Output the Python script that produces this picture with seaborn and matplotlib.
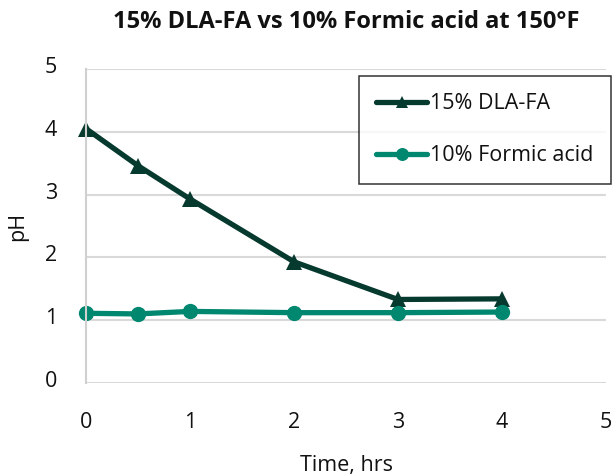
import matplotlib
matplotlib.use("Agg")
import matplotlib.pyplot as plt
import matplotlib.transforms as mtransforms
import seaborn as sns
import pandas as pd

time_dla = [0, 0.5, 1, 2, 3, 4]
ph_dla = [4.05, 3.46, 2.93, 1.93, 1.33, 1.34]
time_formic = [0, 0.5, 1, 2, 3, 4]
ph_formic = [1.11, 1.10, 1.14, 1.12, 1.12, 1.13]
series_names = ["15% DLA-FA", "10% Formic acid"]
colors = ["#073a2e", "#00876f"]
ticks = [0, 1, 2, 3, 4, 5]

sns.set_theme(style="white")
plt.rcParams['font.family'] = ['Open Sans', 'DejaVu Sans']

df = pd.concat([
    pd.DataFrame({"time": time_dla, "ph": ph_dla, "series": series_names[0]}),
    pd.DataFrame({"time": time_formic, "ph": ph_formic, "series": series_names[1]}),
])

fig = plt.figure(figsize=(6.15, 4.75), dpi=100)
ax = fig.add_axes([86/615, 1-383/475, 520/615, 314/475])

sns.lineplot(data=df, x="time", y="ph", hue="series", style="series",
             palette=colors, markers=["^", "o"], dashes=False,
             linewidth=3.8, markersize=11, markeredgewidth=0, ax=ax)

ax.set_xlim(0, 5)
ax.set_ylim(0, 5)
ax.set_xticks(ticks)
ax.set_yticks(ticks)
ax.yaxis.grid(True, color="#d9d9d9", linewidth=1.5)
ax.xaxis.grid(False)
for s in ["top", "right", "bottom"]:
    ax.spines[s].set_visible(False)
ax.spines["left"].set_color("#d0d0d0")
ax.spines["left"].set_linewidth(1.5)
ax.tick_params(axis="x", length=0, labelsize=15.5, colors="#111111", pad=21)
ax.tick_params(axis="y", length=0, labelsize=15.5, colors="#111111", pad=21)

ax.set_xlabel("Time, hrs", fontsize=15.5, color="#111111", labelpad=16)
ax.set_ylabel("pH", fontsize=15.5, color="#111111", labelpad=12)
ax.set_title("15% DLA-FA vs 10% Formic acid at 150°F", fontsize=17,
             fontweight="bold", color="#111111", pad=29.5)

leg = ax.legend(loc="upper left", bbox_to_anchor=(359/615, 1-76/475),
                bbox_transform=fig.transFigure, borderaxespad=0,
                frameon=True, fancybox=False, edgecolor="black", fontsize=15.5,
                handlelength=2.35, handletextpad=0.15, labelspacing=1.45,
                borderpad=0.8, title=None, markerscale=0.85)
leg.get_frame().set_linewidth(1.1)
for t in leg.get_texts():
    t.set_color("#111111")
for line in ax.lines:
    line.set_clip_on(False)

fig.canvas.draw()
offset = mtransforms.ScaledTranslation(0, 4/100, fig.dpi_scale_trans)
for tk in ax.yaxis.get_major_ticks():
    tk.label1.set_transform(tk.label1.get_transform() + offset)

fig.savefig("out.png", dpi=100)
